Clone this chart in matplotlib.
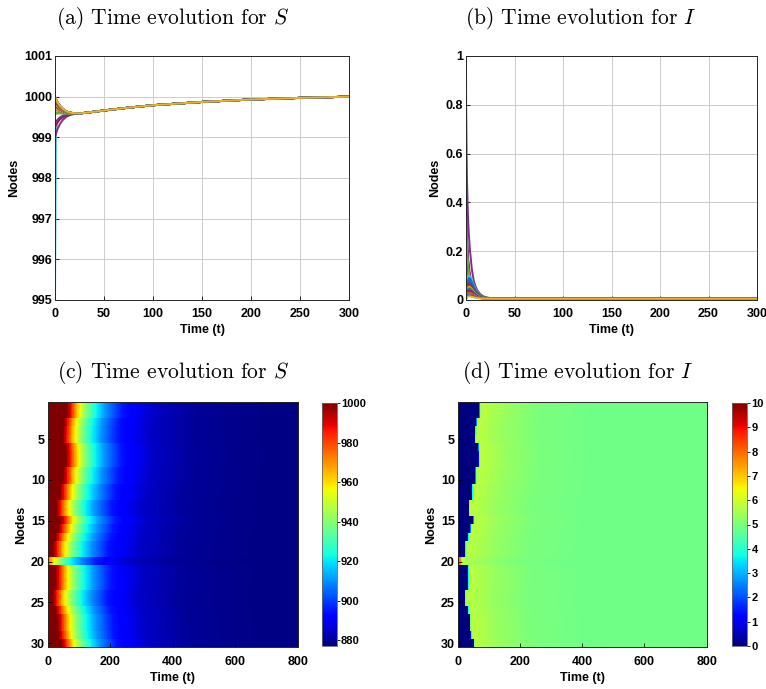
import numpy as np
import matplotlib.pyplot as plt

plt.rcParams['font.family'] = ['Liberation Sans', 'DejaVu Sans']
plt.rcParams['font.weight'] = 'bold'
plt.rcParams['mathtext.fontset'] = 'cm'

# MATLAB default colour order
line_colors = ['#0072BD', '#D95319', '#EDB120', '#7E2F8E', '#77AC30', '#4DBEEE', '#A2142F']

nodes = np.arange(1, 31)
seed_node = 20

# ---- (b) infected curves: peak value per node, 1 = starts at its peak, 0 = rises first
I_peak = [0.02, 0.03, 0.015, 0.04, 0.05, 0.03, 0.035, 0.045, 0.06, 0.055,
          0.07, 0.08, 0.14, 0.16, 0.09, 0.19, 0.23, 0.82, 0.34, 1.0,
          0.41, 0.25, 0.13, 0.12, 0.38, 0.30, 0.10, 0.06, 0.08, 0.05]
I_direct = [0, 0, 0, 0, 0, 0, 0, 0, 0, 0,
            0, 0, 1, 1, 0, 1, 1, 1, 1, 1,
            1, 1, 1, 1, 1, 1, 0, 0, 0, 0]
I_floor = 0.005
t_I = [0, 0.5, 1, 2, 3, 4, 5, 6, 8, 10, 12, 15, 18, 22, 26, 30, 35, 40, 50, 100, 300]
shape_direct = [1, 0.75, 0.6, 0.42, 0.32, 0.25, 0.2, 0.15, 0.09, 0.06, 0.04,
                0.022, 0.012, 0.006, 0.003, 0.0015, 0.0005, 0, 0, 0, 0]
shape_delayed = [0, 0.35, 0.6, 0.88, 1.0, 0.97, 0.9, 0.8, 0.6, 0.42, 0.29,
                 0.16, 0.09, 0.04, 0.02, 0.01, 0.004, 0.001, 0, 0, 0]
shape_seed = [1, 0.45, 0.3, 0.17, 0.11, 0.08, 0.06, 0.045, 0.03, 0.02, 0.013,
              0.007, 0.004, 0.002, 0.001, 0, 0, 0, 0, 0, 0]

# ---- (a) susceptible curves: start value per node, common path, remaining deviation
S_start = [1000, 1000, 1000, 999.98, 999.97, 1000, 1000, 999.99, 999.95, 999.96,
           999.92, 999.9, 999.83, 999.8, 999.9, 999.77, 999.72, 999.0, 999.58, 995.0,
           999.25, 999.7, 999.85, 999.86, 999.35, 999.62, 999.88, 999.94, 999.9, 999.96]
t_S = [0, 1, 2, 3, 5, 8, 12, 16, 20, 25, 30, 50, 75, 100, 150, 200, 250, 300]
S_common = [999.52, 999.53, 999.54, 999.55, 999.56, 999.57, 999.575, 999.58, 999.585,
            999.59, 999.6, 999.66, 999.73, 999.79, 999.87, 999.93, 999.97, 1000.0]
S_frac = [1, 0.85, 0.72, 0.62, 0.45, 0.27, 0.12, 0.05, 0.02, 0, 0, 0, 0, 0, 0, 0, 0, 0]
S_frac_seed = [1, 0.1, 0.05, 0.03, 0.015, 0.005, 0, 0, 0, 0, 0, 0, 0, 0, 0, 0, 0, 0]

# ---- heatmaps (c) and (d): switch time per node and time profiles after it
switch_time = [66, 66, 56, 53, 52, 62, 63, 63, 54, 54, 43, 43, 32, 32, 46,
               38, 29, 21, 21, -15, 29, 29, 29, 20, 20, 29, 36, 36, 39, 48]
tau_S = [-6, -3, 8, 22, 36, 52, 80, 118, 170, 268, 400, 600, 800]
S_profile = [1000, 996, 985, 968, 955, 942, 925, 910, 895, 885, 880, 878, 877.5]
tau_I = [-0.01, 0, 4, 8, 40, 100, 200, 350, 500, 800]
I_profile = [0, 0, 5.0, 5.75, 5.6, 5.3, 5.0, 4.88, 4.85, 4.85]
t_I_seed = [0, 8, 12, 16, 50, 100, 200, 350, 800]
I_seed = [8.2, 7.6, 6.0, 5.6, 5.5, 5.25, 4.97, 4.87, 4.85]

W, H = 766, 689
fig = plt.figure(figsize=(W / 100, H / 100), dpi=100)


def px_axes(left, top, right, bottom):
    return fig.add_axes([left / W, 1 - bottom / H, (right - left) / W, (bottom - top) / H])


def style(ax, grid=True):
    for s in ax.spines.values():
        s.set_color('0.15')
        s.set_linewidth(0.7)
    ax.tick_params(direction='in', length=3, width=0.6, labelsize=9)
    ax.tick_params(axis='x', pad=6)
    ax.tick_params(axis='y', pad=2)
    for lab in ax.get_xticklabels() + ax.get_yticklabels():
        lab.set_fontweight('bold')
    if grid:
        ax.grid(True, color='0.8', linewidth=0.7)
        ax.set_axisbelow(True)


def labels(ax):
    ax.set_xlabel('Time (t)', fontsize=9, fontweight='bold', labelpad=3)
    ax.set_ylabel('Nodes', fontsize=9, fontweight='bold', labelpad=3)


title_kw = dict(fontsize=15.5, family='cmr10', ha='center', va='center', fontweight='normal')

# draw the biggest outbreaks first so smaller curves sit on top
order = np.argsort(I_peak)[::-1]

# (a)
ax_a = px_axes(55, 56, 349, 300)
for i in order:
    frac = np.array(S_frac_seed if nodes[i] == seed_node else S_frac)
    vals = np.array(S_common) + (S_start[i] - S_common[0]) * frac
    ax_a.plot(t_S, vals, color=line_colors[i % 7], lw=1.4)
ax_a.set_xlim(0, 300)
ax_a.set_ylim(995, 1001)
ax_a.set_xticks(range(0, 301, 50))
ax_a.set_yticks(range(995, 1002))
style(ax_a)
labels(ax_a)

# (b)
ax_b = px_axes(466, 56, 757, 300)
for i in order:
    if nodes[i] == seed_node:
        shape = np.array(shape_seed)
    else:
        shape = np.array(shape_direct if I_direct[i] else shape_delayed)
    vals = I_floor + (I_peak[i] - I_floor) * shape
    ax_b.plot(t_I, vals, color=line_colors[i % 7], lw=1.4)
ax_b.set_xlim(0, 300)
ax_b.set_ylim(0, 1)
ax_b.set_xticks(range(0, 301, 50))
ax_b.set_yticks([0, 0.2, 0.4, 0.6, 0.8, 1])
ax_b.set_yticklabels(['0', '0.2', '0.4', '0.6', '0.8', '1'])
style(ax_b)
labels(ax_b)

# heatmap matrices
t_grid = np.arange(0, 801, 2)
S_mat = np.array([np.interp(t_grid - d, tau_S, S_profile) for d in switch_time])
I_mat = np.array([np.interp(t_grid, t_I_seed, I_seed) if n == seed_node
                  else np.interp(t_grid - d, tau_I, I_profile)
                  for n, d in zip(nodes, switch_time)])

# (c)
ax_c = px_axes(47.7, 402.3, 297.7, 647.3)
im_c = ax_c.imshow(S_mat, cmap='jet', vmin=877, vmax=1000, aspect='auto',
                   extent=[0, 800, 30.5, 0.5], interpolation='nearest')
ax_c.set_xticks(range(0, 801, 200))
ax_c.set_yticks(range(5, 31, 5))
style(ax_c, grid=False)
labels(ax_c)
cax_c = px_axes(321.7, 403, 336.7, 646)
cb_c = fig.colorbar(im_c, cax=cax_c, ticks=range(880, 1001, 20))

# (d)
ax_d = px_axes(457.7, 402.3, 706.7, 647.3)
im_d = ax_d.imshow(I_mat, cmap='jet', vmin=0, vmax=10, aspect='auto',
                   extent=[0, 800, 30.5, 0.5], interpolation='nearest')
ax_d.set_xticks(range(0, 801, 200))
ax_d.set_yticks(range(5, 31, 5))
style(ax_d, grid=False)
labels(ax_d)
cax_d = px_axes(731.7, 403, 747.3, 646)
cb_d = fig.colorbar(im_d, cax=cax_d, ticks=range(0, 11))

for cb in (cb_c, cb_d):
    cb.outline.set_linewidth(0.6)
    cb.outline.set_edgecolor('0.4')
    cb.ax.tick_params(labelsize=8, length=2, width=0.6, pad=1)
    for lab in cb.ax.get_yticklabels():
        lab.set_fontweight('bold')

fig.text(173 / W, 1 - 18 / H, r'(a) Time evolution for $S$', **title_kw)
fig.text(581 / W, 1 - 18 / H, r'(b) Time evolution for $I$', **title_kw)
fig.text(173 / W, 1 - 372 / H, r'(c) Time evolution for $S$', **title_kw)
fig.text(578 / W, 1 - 372 / H, r'(d) Time evolution for $I$', **title_kw)

fig.savefig('out.png', dpi=100)
